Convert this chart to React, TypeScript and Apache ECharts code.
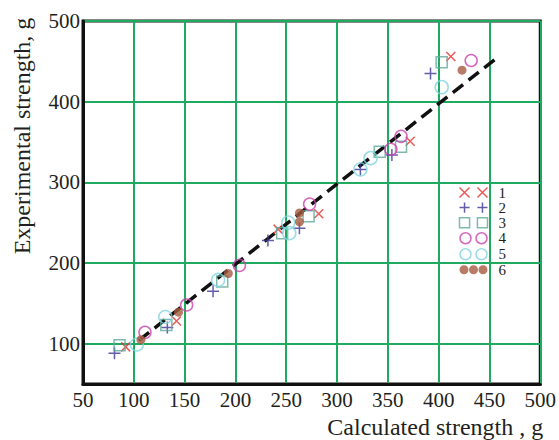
import React, { useEffect, useRef } from "react";
import * as echarts from "echarts";

const xTicks = [50, 100, 150, 200, 250, 300, 350, 400, 450, 500];
const yTicks = [100, 200, 300, 400, 500];
const legendNames = ["1", "2", "3", "4", "5", "6"];

const series1: number[][] = [[92, 96], [142, 128], [242, 242], [282, 261], [372, 351], [412, 456]];
const series2: number[][] = [[81, 88], [133, 120], [178, 165], [232, 228], [263, 243], [323, 316], [354, 334], [392, 435]];
const series3: number[][] = [[86, 98], [132, 123], [187, 177], [246, 237], [272, 258], [342, 338], [363, 344], [403, 449]];
const series4: number[][] = [[111, 114], [152, 148], [204, 197], [273, 273], [353, 341], [363, 357], [432, 451]];
const series5: number[][] = [[103, 99], [131, 133], [183, 179], [252, 250], [253, 237], [323, 316], [333, 330], [403, 418]];
const series6: number[][] = [[107, 105], [144, 139], [193, 187], [263, 262], [263, 251], [423, 439]];
const fitLine: number[][] = [[105, 104], [458, 455]];

const RED = "#e5322d";
const PURPLE = "#3d3591";
const TEAL = "#5fa99a";
const MAGENTA = "#cc3fae";
const CYAN = "#80d6e0";
const BROWN = "#a65a3f";
const GREEN = "#1eaa5f";
const INK = "#231f20";
const FONT = "Liberation Serif";

const crossPath = "path://M0 0L10 10M10 0L0 10";
const plusPath = "path://M5 0V10M0 5H10";

const legendIcons = [
  "path://M0 0L9 9M9 0L0 9M16 0L25 9M25 0L16 9",
  "path://M4.5 0V9M0 4.5H9M20.5 0V9M16 4.5H25",
  "path://M0 0H9V9H0ZM16 0H25V9H16Z",
  "path://M0 5.5A5.5 5.5 0 1 1 11 5.5A5.5 5.5 0 1 1 0 5.5ZM16 5.5A5.5 5.5 0 1 1 27 5.5A5.5 5.5 0 1 1 16 5.5Z",
  "path://M0 5.5A5.5 5.5 0 1 1 11 5.5A5.5 5.5 0 1 1 0 5.5ZM16 5.5A5.5 5.5 0 1 1 27 5.5A5.5 5.5 0 1 1 16 5.5Z",
  "path://M0 4.5A4.5 4.5 0 1 1 9 4.5A4.5 4.5 0 1 1 0 4.5ZM9.5 4.5A4.5 4.5 0 1 1 18.5 4.5A4.5 4.5 0 1 1 9.5 4.5ZM19 4.5A4.5 4.5 0 1 1 28 4.5A4.5 4.5 0 1 1 19 4.5Z",
];

export default function App() {
  const ref = useRef<HTMLDivElement>(null);
  useEffect(() => {
    if (!ref.current) return;
    const chart = echarts.init(ref.current, null, { renderer: "svg" });
    const hollow = (c: string) => ({ color: "none", borderColor: c, borderWidth: 1.5 });
    const legendStyles = [hollow(RED), hollow(PURPLE), hollow(TEAL), hollow(MAGENTA), hollow(CYAN), { color: BROWN, borderWidth: 0 }];
    chart.setOption({
      animation: false,
      backgroundColor: "#ffffff",
      grid: { left: 83, right: 17, top: 21, bottom: 56, show: true, borderColor: "#111", borderWidth: 3, backgroundColor: "transparent" },
      xAxis: {
        type: "value",
        min: xTicks[0],
        max: xTicks[xTicks.length - 1],
        interval: 50,
        axisLine: { show: true, lineStyle: { color: "#111", width: 3 } },
        axisTick: { show: false },
        splitLine: { show: true, lineStyle: { color: GREEN, width: 2 } },
        axisLabel: { color: INK, fontFamily: FONT, fontSize: 21, margin: 5 },
        name: "Calculated strength , g",
        nameLocation: "end",
        nameGap: 3,
        nameTextStyle: { color: INK, fontFamily: FONT, fontSize: 24, align: "right", verticalAlign: "top", padding: [31, 0, 0, 0] },
      },
      yAxis: {
        type: "value",
        min: 50,
        max: 500,
        axisLine: { show: true, lineStyle: { color: "#111", width: 3 } },
        axisTick: { show: false, customValues: yTicks },
        splitLine: { show: true, lineStyle: { color: GREEN, width: 2 } },
        axisLabel: { color: INK, fontFamily: FONT, fontSize: 21, margin: 3, customValues: yTicks },
      },
      graphic: [
        {
          type: "text",
          x: 22,
          y: 136,
          rotation: Math.PI / 2,
          style: { text: "Experimental strength, g", font: `24px "${FONT}"`, fill: INK, align: "center", verticalAlign: "middle" },
        },
      ],
      legend: {
        orient: "vertical",
        left: 457,
        top: 185,
        padding: 0,
        itemGap: 0,
        itemWidth: 28,
        itemHeight: 11,
        textStyle: { color: INK, fontFamily: FONT, fontSize: 15, lineHeight: 14, padding: [0, 0, 0, 6] },
        data: legendNames.map((n, i) => ({ name: n, icon: legendIcons[i], itemStyle: legendStyles[i] })),
      },
      series: [
        {
          type: "line",
          name: "fit",
          data: fitLine,
          symbol: "none",
          lineStyle: { color: "#111", width: 3.5, type: [13, 7] },
          z: 2,
        },
        { type: "scatter", name: "1", data: series1, symbol: crossPath, symbolSize: 9, itemStyle: hollow(RED), z: 3 },
        { type: "scatter", name: "2", data: series2, symbol: plusPath, symbolSize: 12, itemStyle: hollow(PURPLE), z: 3 },
        { type: "scatter", name: "3", data: series3, symbol: "rect", symbolSize: 11, itemStyle: hollow(TEAL), z: 3 },
        { type: "scatter", name: "4", data: series4, symbol: "circle", symbolSize: 12, itemStyle: hollow(MAGENTA), z: 3 },
        { type: "scatter", name: "5", data: series5, symbol: "circle", symbolSize: 13, itemStyle: hollow(CYAN), z: 3 },
        { type: "scatter", name: "6", data: series6, symbol: "circle", symbolSize: 9, itemStyle: { color: BROWN }, z: 3 },
      ],
    });
    return () => chart.dispose();
  }, []);
  return <div ref={ref} style={{ position: "fixed", left: 0, top: 0, width: 559, height: 440 }} />;
}
